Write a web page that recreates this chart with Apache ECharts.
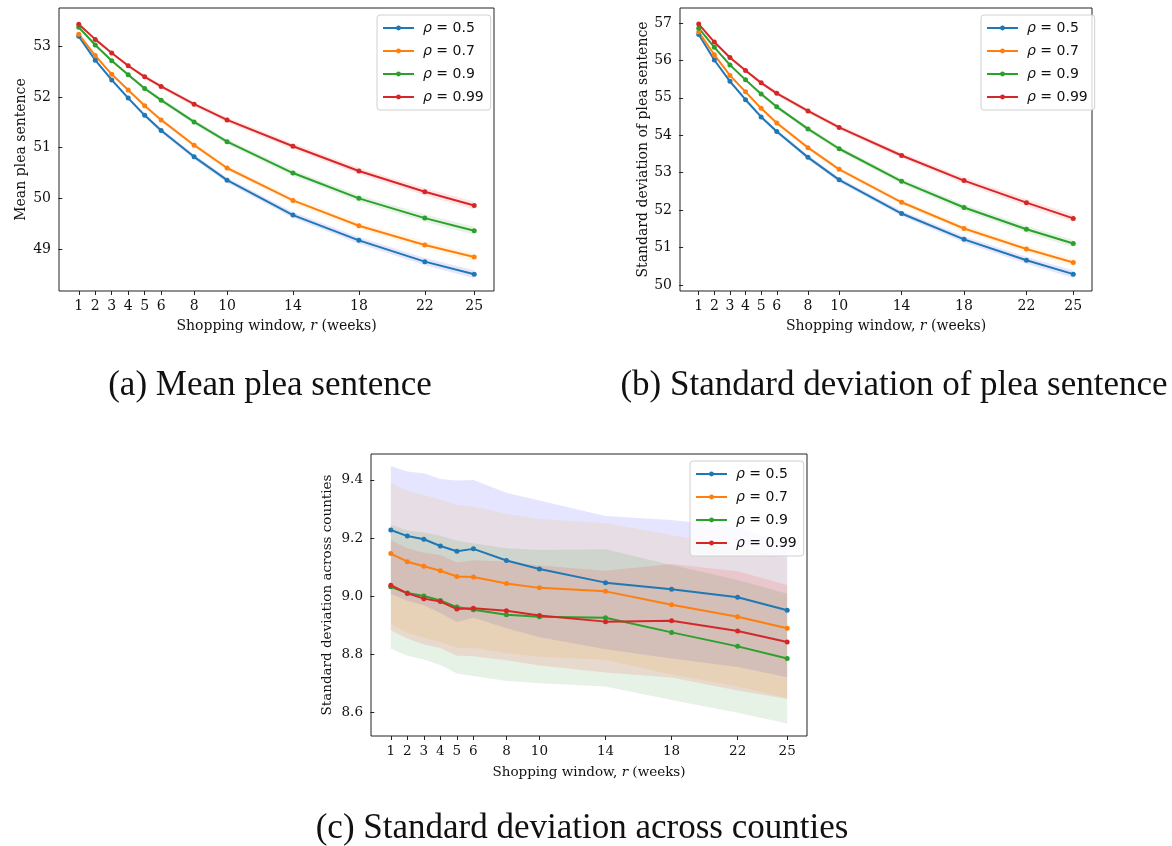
<!DOCTYPE html>
<html>
<head>
<meta charset="utf-8">
<title>Shopping window</title>
<script src="https://cdn.jsdelivr.net/npm/echarts@6/dist/echarts.min.js"></script>
<style>
  html, body { margin: 0; padding: 0; background: #fff; }
  #chart { width: 1172px; height: 846px; }
</style>
</head>
<body>
<div id="chart"></div>
<script>
// shopping window r (weeks) and the four rho settings
const weeks = [1, 2, 3, 4, 5, 6, 8, 10, 14, 18, 22, 25]
const rhoValues = ['0.5', '0.7', '0.9', '0.99']
const lineColors = ['#1f77b4', '#ff7f0e', '#2ca02c', '#d62728']
const bandColors = ['rgba(0,0,255,0.1)', 'rgba(255,165,0,0.1)', 'rgba(0,128,0,0.1)', 'rgba(255,0,0,0.1)']

// (a) mean plea sentence
const meanPlea05 = [53.20, 52.73, 52.34, 51.98, 51.64, 51.34, 50.82, 50.36, 49.67, 49.17, 48.75, 48.50]
const meanPlea07 = [53.24, 52.82, 52.45, 52.14, 51.83, 51.55, 51.05, 50.60, 49.96, 49.46, 49.08, 48.84]
const meanPlea09 = [53.38, 53.03, 52.72, 52.44, 52.17, 51.94, 51.51, 51.12, 50.50, 50.00, 49.61, 49.36]
const meanPlea099 = [53.44, 53.14, 52.87, 52.62, 52.40, 52.21, 51.86, 51.55, 51.03, 50.54, 50.13, 49.86]
const meanPleaBand = [0.02, 0.025, 0.03, 0.035, 0.04, 0.042, 0.048, 0.052, 0.06, 0.066, 0.072, 0.078]

// (b) standard deviation of plea sentence
const sdPlea05 = [56.69, 56.01, 55.44, 54.95, 54.49, 54.10, 53.41, 52.81, 51.91, 51.22, 50.66, 50.29]
const sdPlea07 = [56.76, 56.15, 55.60, 55.16, 54.72, 54.33, 53.67, 53.09, 52.21, 51.51, 50.96, 50.60]
const sdPlea09 = [56.86, 56.35, 55.88, 55.48, 55.10, 54.76, 54.17, 53.64, 52.77, 52.07, 51.49, 51.11]
const sdPlea099 = [56.97, 56.49, 56.08, 55.73, 55.40, 55.12, 54.65, 54.21, 53.46, 52.79, 52.20, 51.78]
const sdPleaBand = [0.03, 0.035, 0.04, 0.045, 0.05, 0.055, 0.06, 0.065, 0.075, 0.085, 0.095, 0.1]

// (c) standard deviation across counties, with spread bands
const sdCounty05 = [9.228, 9.207, 9.196, 9.173, 9.155, 9.163, 9.123, 9.094, 9.047, 9.024, 8.997, 8.952]
const sdCounty07 = [9.147, 9.119, 9.103, 9.088, 9.068, 9.066, 9.044, 9.029, 9.017, 8.971, 8.930, 8.890]
const sdCounty09 = [9.033, 9.011, 9.001, 8.986, 8.963, 8.954, 8.937, 8.930, 8.926, 8.876, 8.828, 8.786]
const sdCounty099 = [9.038, 9.010, 8.992, 8.982, 8.956, 8.959, 8.950, 8.934, 8.913, 8.916, 8.881, 8.843]
const sdCountyBand05 = [0.220, 0.222, 0.227, 0.230, 0.243, 0.237, 0.233, 0.235, 0.229, 0.238, 0.240, 0.230]
const sdCountyBand07 = [0.242, 0.244, 0.245, 0.245, 0.246, 0.243, 0.240, 0.237, 0.235, 0.240, 0.240, 0.240]
const sdCountyBand09 = [0.213, 0.215, 0.218, 0.222, 0.228, 0.228, 0.228, 0.229, 0.236, 0.232, 0.228, 0.223]
const sdCountyBand099 = [0.155, 0.155, 0.158, 0.160, 0.160, 0.165, 0.170, 0.172, 0.175, 0.195, 0.205, 0.196]

const panels = [
  {
    grid: { left: 59, top: 8, width: 435, height: 283 },
    yMin: 48.17, yMax: 53.76, yTicks: [49, 50, 51, 52, 53], yDigits: 0,
    yName: 'Mean plea sentence', yNameGap: 31, xNameGap: 28, fontSize: 14,
    legend: { left: 377, top: 15 },
    lines: [meanPlea05, meanPlea07, meanPlea09, meanPlea099],
    bands: [meanPleaBand, meanPleaBand, meanPleaBand, meanPleaBand]
  },
  {
    grid: { left: 680, top: 8, width: 412, height: 283 },
    yMin: 49.84, yMax: 57.40, yTicks: [50, 51, 52, 53, 54, 55, 56, 57], yDigits: 0,
    yName: 'Standard deviation of plea sentence', yNameGap: 30, xNameGap: 28, fontSize: 14,
    legend: { left: 981, top: 15 },
    lines: [sdPlea05, sdPlea07, sdPlea09, sdPlea099],
    bands: [sdPleaBand, sdPleaBand, sdPleaBand, sdPleaBand]
  },
  {
    grid: { left: 371, top: 454, width: 436, height: 282 },
    yMin: 8.52, yMax: 9.489, yTicks: [8.6, 8.8, 9.0, 9.2, 9.4], yDigits: 1,
    yName: 'Standard deviation across counties', yNameGap: 37, xNameGap: 29, fontSize: 13.5,
    legend: { left: 690, top: 461 },
    lines: [sdCounty05, sdCounty07, sdCounty09, sdCounty099],
    bands: [sdCountyBand05, sdCountyBand07, sdCountyBand09, sdCountyBand099]
  }
]

const seriesName = (i) => `ρ = ${rhoValues[i]}`
const serif = 'DejaVu Serif'

const grids = []
const xAxes = []
const yAxes = []
const legends = []
const series = []

panels.forEach((panel, p) => {
  grids.push({ ...panel.grid, show: true, borderColor: '#222', borderWidth: 1, backgroundColor: 'transparent' })

  xAxes.push({
    gridIndex: p,
    type: 'value',
    min: -0.2,
    max: 26.2,
    axisLine: { show: false },
    splitLine: { show: false },
    axisTick: { show: true, length: 4, lineStyle: { color: '#222' }, customValues: weeks },
    axisLabel: { color: '#111', fontFamily: serif, fontSize: panel.fontSize, margin: 8, customValues: weeks },
    name: '{t|Shopping window, }{i|r}{t| (weeks)}',
    nameLocation: 'middle',
    nameGap: panel.xNameGap,
    nameTextStyle: {
      rich: {
        t: { fontFamily: serif, fontSize: panel.fontSize, color: '#111' },
        i: { fontFamily: serif, fontSize: panel.fontSize, fontStyle: 'italic', color: '#111' }
      }
    }
  })

  yAxes.push({
    gridIndex: p,
    type: 'value',
    min: panel.yMin,
    max: panel.yMax,
    axisLine: { show: false },
    splitLine: { show: false },
    axisTick: { show: true, length: 4, lineStyle: { color: '#222' }, customValues: panel.yTicks },
    axisLabel: {
      color: '#111',
      fontFamily: serif,
      fontSize: panel.fontSize,
      margin: 8,
      customValues: panel.yTicks,
      formatter: (v) => Number(v).toFixed(panel.yDigits)
    },
    name: panel.yName,
    nameLocation: 'middle',
    nameGap: panel.yNameGap,
    nameTextStyle: { fontFamily: serif, fontSize: panel.fontSize, color: '#111' }
  })

  legends.push({
    left: panel.legend.left,
    top: panel.legend.top,
    orient: 'vertical',
    data: rhoValues.map((_, i) => seriesName(i)),
    itemWidth: 31,
    itemHeight: 6,
    itemGap: 9,
    padding: [6, 7, 6, 5],
    borderColor: '#d0d0d0',
    borderWidth: 1,
    borderRadius: 3,
    backgroundColor: 'rgba(255,255,255,0.8)',
    selectedMode: false,
    formatter: (name) => `{i|ρ}{n| = ${name.split('= ')[1]}}`,
    textStyle: {
      padding: [0, 0, 0, 4],
      rich: {
        i: { fontFamily: 'DejaVu Sans', fontStyle: 'italic', fontSize: 14, color: '#111' },
        n: { fontFamily: 'DejaVu Sans', fontSize: 14, color: '#111' }
      }
    }
  })

  // shaded spread bands, one polygon per series drawn through the axis scales
  panel.lines.forEach((values, i) => {
    const band = panel.bands[i]
    series.push({
      name: `band-${p}-${i}`,
      type: 'custom',
      xAxisIndex: p,
      yAxisIndex: p,
      silent: true,
      clip: true,
      z: 1,
      encode: { x: 0, y: [1, 2] },
      data: weeks.map((w, k) => [w, values[k] - band[k], values[k] + band[k]]),
      renderItem: (params, api) => {
        if (params.dataIndex !== 0) return null
        const points = []
        weeks.forEach((w, k) => points.push(api.coord([w, values[k] + band[k]])))
        for (let k = weeks.length - 1; k >= 0; k--) points.push(api.coord([weeks[k], values[k] - band[k]]))
        return { type: 'polygon', shape: { points }, style: { fill: bandColors[i] } }
      }
    })
  })

  panel.lines.forEach((values, i) => {
    series.push({
      name: seriesName(i),
      type: 'line',
      xAxisIndex: p,
      yAxisIndex: p,
      symbol: 'circle',
      symbolSize: 5,
      showSymbol: true,
      color: lineColors[i],
      lineStyle: { width: 2, color: lineColors[i] },
      itemStyle: { color: lineColors[i] },
      data: weeks.map((w, k) => [w, values[k]]),
      z: 3
    })
  })
})

const captionFont = '35px "Liberation Serif"'
const captions = [
  { text: '(a) Mean plea sentence', x: 270, y: 386 },
  { text: '(b) Standard deviation of plea sentence', x: 894, y: 386 },
  { text: '(c) Standard deviation across counties', x: 582, y: 829 }
]

const chart = echarts.init(document.getElementById('chart'), null, { renderer: 'canvas' })
chart.setOption({
  animation: false,
  backgroundColor: '#fff',
  grid: grids,
  xAxis: xAxes,
  yAxis: yAxes,
  legend: legends,
  series: series,
  graphic: captions.map((c) => ({
    type: 'text',
    x: c.x,
    y: c.y,
    style: { text: c.text, font: captionFont, fill: '#111', textAlign: 'center', textVerticalAlign: 'middle' }
  }))
})
</script>
</body>
</html>
